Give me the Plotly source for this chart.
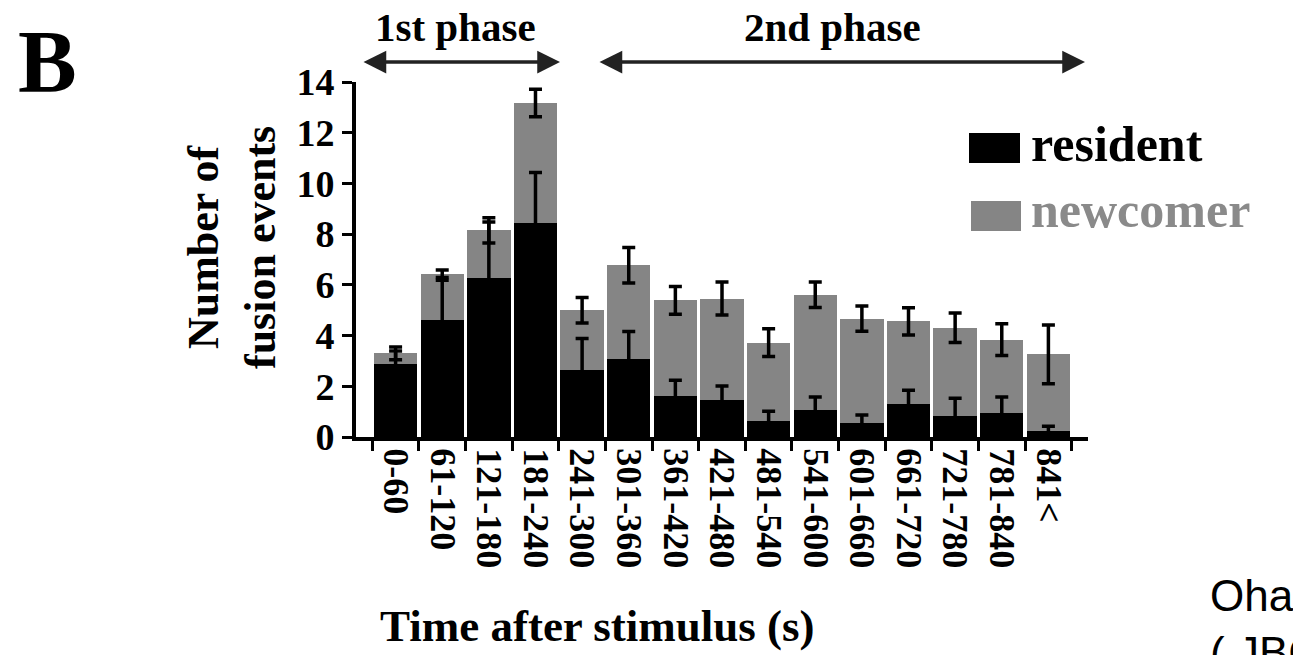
import plotly.graph_objects as go

# Time bins after stimulus (s)
bins = ["0-60", "61-120", "121-180", "181-240", "241-300", "301-360", "361-420",
        "421-480", "481-540", "541-600", "601-660", "661-720", "721-780",
        "781-840", "841<"]

# Mean number of fusion events per bin
resident = [2.89, 4.63, 6.28, 8.45, 2.63, 3.06, 1.62, 1.45, 0.62, 1.08, 0.57,
            1.29, 0.83, 0.95, 0.22]
newcomer = [0.41, 1.81, 1.87, 4.72, 2.37, 3.71, 3.77, 4.01, 3.10, 4.53, 4.10,
            3.27, 3.48, 2.89, 3.04]

# Standard errors
resident_err = [0.50, 1.55, 2.20, 1.98, 1.25, 1.10, 0.62, 0.56, 0.40, 0.50,
                0.30, 0.55, 0.70, 0.63, 0.20]
newcomer_err = [0.25, 0.15, 0.50, 0.54, 0.50, 0.70, 0.55, 0.65, 0.55, 0.50,
                0.50, 0.54, 0.58, 0.63, 1.16]

total = [r + n for r, n in zip(resident, newcomer)]

W, H = 1293, 655
ML, MR, MT, MB = 356, 205, 82, 218
PW, PH = W - ML - MR, H - MT - MB

SERIF = "Liberation Serif"
GRAY = "#858585"


def px(x):
    return (x - ML) / PW


def py(y):
    return (H - MB - y) / PH


fig = go.Figure()

fig.add_trace(go.Bar(x=bins, y=resident, name="resident",
                     marker=dict(color="black", line=dict(width=0))))
fig.add_trace(go.Bar(x=bins, y=newcomer, name="newcomer",
                     marker=dict(color=GRAY, line=dict(width=0))))

# Error bars drawn on top of the stacked bars
fig.add_trace(go.Scatter(x=bins, y=resident, mode="markers",
                         marker=dict(size=1, opacity=0),
                         error_y=dict(type="data", array=resident_err,
                                      color="black", thickness=3.5, width=6.5),
                         showlegend=False, hoverinfo="skip"))
fig.add_trace(go.Scatter(x=bins, y=total, mode="markers",
                         marker=dict(size=1, opacity=0),
                         error_y=dict(type="data", array=newcomer_err,
                                      color="black", thickness=3.5, width=6.5),
                         showlegend=False, hoverinfo="skip"))

annotations = []
shapes = []

# Panel letter
annotations.append(dict(text="B", x=px(47), y=py(61), xref="paper", yref="paper",
                        showarrow=False, xanchor="center", yanchor="middle",
                        font=dict(family=SERIF, size=88, color="black", weight="bold")))

# Phase labels and arrows
for label, cx in [("1st phase", 455), ("2nd phase", 832)]:
    annotations.append(dict(text=label, x=px(cx), y=py(27), xref="paper", yref="paper",
                            showarrow=False, xanchor="center", yanchor="middle",
                            font=dict(family=SERIF, size=41, color="black",
                                      weight="bold")))
for x0, x1 in [(362, 560), (598, 1085)]:
    annotations.append(dict(text="", x=px(x1), y=py(62), xref="paper", yref="paper",
                            ax=-(x1 - x0), ay=0, showarrow=True,
                            arrowside="end+start", arrowhead=2, arrowsize=1.3,
                            arrowwidth=3.5, arrowcolor="#222222"))

# Axis titles
annotations.append(dict(text="Number of<br>fusion events", x=px(232), y=py(248),
                        xref="paper", yref="paper", showarrow=False, textangle=-90,
                        xanchor="center", yanchor="middle",
                        font=dict(family=SERIF, size=44, color="black", weight="bold")))
annotations.append(dict(text="Time after stimulus (s)", x=px(597), y=py(626),
                        xref="paper", yref="paper", showarrow=False,
                        xanchor="center", yanchor="middle",
                        font=dict(family=SERIF, size=45, color="black", weight="bold")))

# Legend
shapes.append(dict(type="rect", xref="paper", yref="paper",
                   x0=px(969), x1=px(1020), y0=py(163), y1=py(133),
                   fillcolor="black", line=dict(width=0)))
shapes.append(dict(type="rect", xref="paper", yref="paper",
                   x0=px(971), x1=px(1021), y0=py(231), y1=py(201),
                   fillcolor=GRAY, line=dict(width=0)))
annotations.append(dict(text="resident", x=px(1029), y=py(144), xref="paper",
                        yref="paper", showarrow=False, xanchor="left", yanchor="middle",
                        font=dict(family=SERIF, size=50, color="black", weight="bold")))
annotations.append(dict(text="newcomer", x=px(1029), y=py(210), xref="paper",
                        yref="paper", showarrow=False, xanchor="left", yanchor="middle",
                        font=dict(family=SERIF, size=50, color="#8a8a8a",
                                  weight="bold")))

# Source note
annotations.append(dict(text="Ohara-Imaizumi et al.<br>( JBC 2007)", x=px(1208), y=py(569),
                        xref="paper", yref="paper", showarrow=False,
                        xanchor="left", yanchor="top", align="left",
                        font=dict(family="Liberation Sans", size=44, color="black")))

fig.update_layout(
    width=W, height=H,
    margin=dict(l=ML, r=MR, t=MT, b=MB, pad=0),
    paper_bgcolor="white", plot_bgcolor="white",
    barmode="stack", bargap=0.07,
    showlegend=False,
    annotations=annotations, shapes=shapes,
    xaxis=dict(type="category", tickson="boundaries", ticks="outside", ticklen=10,
               tickwidth=3, tickcolor="black", showline=True, linewidth=4,
               linecolor="black", tickangle=90, showgrid=False,
               tickfont=dict(family=SERIF, size=36, color="black", weight="bold")),
    yaxis=dict(range=[0, 14], dtick=2, ticks="outside", ticklen=10, tickwidth=3,
               tickcolor="black", showline=True, linewidth=4, linecolor="black",
               showgrid=False, zeroline=False,
               tickfont=dict(family=SERIF, size=38, color="black", weight="bold")),
)

fig.write_html("out.html")
